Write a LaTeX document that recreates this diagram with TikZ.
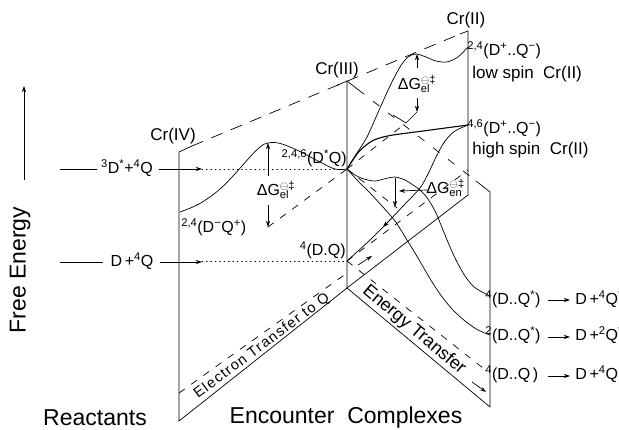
\documentclass[tikz,border=0pt]{standalone}
\usepackage{fontspec}
\setmainfont{Liberation Sans}
\usetikzlibrary{arrows.meta}
\newcommand{\sps}[1]{\textsuperscript{#1}}
\newcommand{\dG}[1]{ΔG\rlap{\sps{$\ominus$‡}}\textsubscript{#1}}
\begin{document}
\begin{tikzpicture}[x=1pt,y=-1pt,line width=0.7pt,
  lbl/.style={font=\fontsize{16}{16}\selectfont,inner sep=0pt},
  crl/.style={font=\fontsize{17}{17}\selectfont,inner sep=0pt},
  big/.style={font=\fontsize{23}{23}\selectfont,inner sep=0pt},
  longdash/.style={dash pattern=on 12pt off 9pt},
  shortdash/.style={dash pattern=on 7pt off 8pt},
  dots/.style={dash pattern=on 0.8pt off 3.6pt,line cap=round},
  tip/.style={-{Stealth[length=6pt,width=4pt]}},
  rtip/.style={{Stealth[length=6pt,width=4pt]}-}]
\useasboundingbox (0,0) rectangle (619,430);
% key points
\coordinate (C4t) at (179,152); \coordinate (C4b) at (179,421);
\coordinate (C3t) at (347,81);  \coordinate (C3b) at (347,288);
\coordinate (C2t) at (468,31);  \coordinate (C2b) at (468,195);
\coordinate (Et) at (490,192);  \coordinate (Eb) at (490,407);
\coordinate (DsQ) at (347,169); \coordinate (DQ) at (347,261);
\coordinate (HS) at (468,125);  \coordinate (LS) at (468,47);
% frames
\draw (C4t) -- (C4b) -- (C3b) -- (C2b) -- (C2t);
\draw (C3t) -- (C3b) -- (Eb) -- (Et) -- (476,181);
\draw (C4t) -- (192,146);
\draw[longdash] (192,146) -- (460,34);
\draw (460,34) -- (C2t);
\draw (337,85.5) -- (C3t) -- (358,89.5);
\draw[dash pattern=on 8pt off 11pt] (358,89.5) -- (476,181);
% level lines from the left
\draw[dots] (202,169) -- (DsQ);
\draw[dots] (202,261) -- (DQ);
\draw (60,169) -- (97,169);
\node[lbl] (r1) at (127,168) {\sps{3}D\sps{*}+\sps{4}Q};
\draw[tip] (159,169) -- (202,169);
\draw (60,262) -- (103,262);
\node[lbl] (r2) at (132,261) {D\,+\sps{4}Q};
\draw[tip] (160,262) -- (202,262);
% curves
\draw plot[smooth,tension=0.7] coordinates {(180,212) (195,206) (207,199) (220,189) (233,176) (250,157) (260,147) (268,143) (278,143) (290,147) (303,153) (320,162) (335,169) (347,169)};
\draw plot[smooth] coordinates {(347,169) (355,156) (367,137) (380,108) (390,86) (400,67) (408,57) (416,54) (426,57) (436,61) (447,62) (458,57) (468,47)};
\draw[line width=1.1pt] plot[smooth] coordinates {(347,169) (357,154) (365,146) (374,140) (390,135.5) (423,131) (468,125)};
\draw plot[smooth] coordinates {(468,125) (455,131) (445,141) (437,155) (428,174) (420,188) (405,204) (388,222) (370,240) (347,261)};
\draw[tip] (393,217) -- (383,227);
\draw plot[smooth] coordinates {(347,169) (355,175) (364,179) (375,181) (386,178.5) (395,177) (405,180) (413,185) (420,190) (428,199) (436,213) (443,230) (450,247) (457,262) (465,276) (473,286) (482,292) (490,296)};
\draw plot[smooth] coordinates {(347,169) (358,181) (370,193) (382,206) (395,221) (407,240) (418,258) (429,277) (440,294) (452,309) (465,321) (478,330) (490,335)};
% dashed reference lines
\draw[shortdash] (268,227) -- (DsQ);
\draw[shortdash] (DsQ) -- (406,123);
\draw (393,115) -- (406,123) -- (417,112);
\draw[shortdash] (DsQ) -- (397,208);
\draw[shortdash] (DQ) -- (468,170);
\draw[shortdash] (DQ) -- (488,372);
\draw[shortdash] (179,393) -- (347,273);
\draw[tip] (358,265) -- (372,256);
\draw[tip] (472,382) -- (486,392);
% Delta G arrows
\draw[rtip] (268,143) -- (268,176);
\draw[tip] (268,205) -- (268,227);
\node[lbl] at (273,190) {\dG{el}};
\draw[rtip] (417,54) -- (417,68);
\draw[tip] (417,98) -- (417,112);
\node[lbl] at (414,84) {\dG{el}};
\draw[tip] (395,178) -- (395,207);
\draw[tip] (427,190) -- (399,191);
\node[lbl,anchor=west] at (426,188) {\dG{en}};
% labels
\node[crl] at (173,136) {Cr(IV)};
\node[crl] at (337,70) {Cr(III)};
\node[crl] at (466,20) {Cr(II)};
\node[lbl,anchor=base west] at (467,56) {\sps{2,4}(D\sps{+}..Q\sps{−})};
\node[crl,anchor=base west] at (472,79) {low spin~ Cr(II)};
\node[lbl,anchor=base west] at (467,134) {\sps{4,6}(D\sps{+}..Q\sps{−})};
\node[crl,anchor=base west] at (472,155) {high spin~ Cr(II)};
\node[lbl,anchor=base east] at (347,164) {\sps{2,4,6}(D\sps{*}Q)};
\node[lbl,anchor=base west] at (181,233) {\sps{2,4}(D\sps{−}Q\sps{+})};
\node[lbl,anchor=base east] at (346,256) {\sps{4}(D.Q)};
% right products
\node[lbl,anchor=base west] at (485,305) {\sps{4}(D..Q\sps{*})};
\draw[tip] (548,300) -- (570,300);
\node[lbl,anchor=base west] at (575,305) {D\,+\sps{4}Q\sps{*}};
\node[lbl,anchor=base west] at (485,341) {\sps{2}(D..Q\sps{*})};
\draw[tip] (548,337) -- (570,337);
\node[lbl,anchor=base west] at (575,341) {D\,+\sps{2}Q\sps{*}};
\node[lbl,anchor=base west] at (485,380) {\sps{4}(D..Q\,)};
\draw[tip] (548,376) -- (570,376);
\node[lbl,anchor=base west] at (575,380) {D\,+\sps{4}Q};
% transfer labels
\node[font=\fontsize{14.5}{14.5}\selectfont\addfontfeatures{LetterSpace=9},inner sep=0pt,rotate=37] at (262,346) {Electron Transfer to Q};
\node[font=\fontsize{18}{18}\selectfont,inner sep=0pt,rotate=-40] at (414,330) {Energy Transfer};
% axis and bottom labels
\draw[tip] (24,180) -- (24,86);
\node[big,rotate=90] at (20,270) {Free Energy};
\node[big] at (95,418) {Reactants};
\node[big] at (346,418) {Encounter~~Complexes};
\end{tikzpicture}
\end{document}
